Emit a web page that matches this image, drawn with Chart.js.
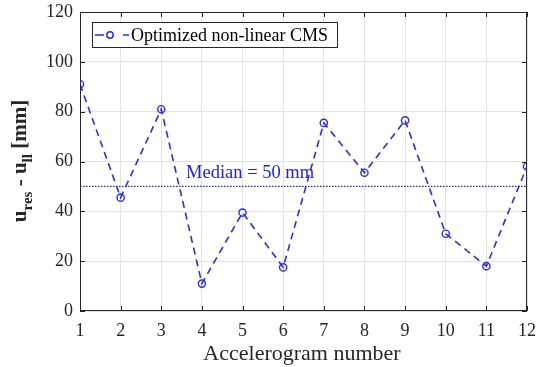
<!DOCTYPE html>
<html>
<head>
<meta charset="utf-8">
<script src="https://cdn.jsdelivr.net/npm/chart.js@4.4.1/dist/chart.umd.min.js"></script>
<style>
  html, body { margin: 0; padding: 0; background: #fff; }
  #wrap { width: 536px; height: 367px; }
</style>
</head>
<body>
<div id="wrap"><canvas id="chart" width="536" height="367"></canvas></div>
<script>
const records = [1, 2, 3, 4, 5, 6, 7, 8, 9, 10, 11, 12];
const displacement = [91, 45.5, 81, 11, 39.5, 17.5, 75.5, 55.5, 76.5, 31, 18, 58];
const medianValue = 50;
const yTicks = [0, 20, 40, 60, 80, 100, 120];
const seriesLabel = 'Optimized non-linear CMS';
const medianLabel = 'Median = 50 mm';
const xTitle = 'Accelerogram number';

const serif = '"Liberation Serif", "Times New Roman", serif';
const axisColor = '#262626';
const blue = '#2a2aff';

// frame, inward ticks, titles, legend and median text
const decorations = {
  id: 'decorations',
  afterDraw(chart) {
    const ctx = chart.ctx;
    const a = chart.chartArea;
    const xs = chart.scales.x, ys = chart.scales.y;
    ctx.save();
    ctx.strokeStyle = axisColor;
    ctx.lineWidth = 1;
    ctx.beginPath();
    ctx.rect(a.left + 0.5, a.top + 0.5, a.right - a.left - 1, a.bottom - a.top - 1);
    ctx.stroke();
    ctx.beginPath();
    records.forEach((r) => {
      const x = Math.round(xs.getPixelForValue(r)) + 0.5;
      ctx.moveTo(x, a.bottom); ctx.lineTo(x, a.bottom - 5);
      ctx.moveTo(x, a.top); ctx.lineTo(x, a.top + 5);
    });
    yTicks.forEach((v) => {
      const y = Math.round(ys.getPixelForValue(v)) + 0.5;
      ctx.moveTo(a.left, y); ctx.lineTo(a.left + 5, y);
      ctx.moveTo(a.right, y); ctx.lineTo(a.right - 5, y);
    });
    ctx.stroke();

    // x title
    ctx.fillStyle = axisColor;
    ctx.font = '22px ' + serif;
    ctx.textAlign = 'center';
    ctx.textBaseline = 'alphabetic';
    ctx.fillText(xTitle, 302, 360);

    // y title with subscripts
    ctx.save();
    ctx.translate(26, 161);
    ctx.rotate(-Math.PI / 2);
    const big = 'bold 21px ' + serif;
    const small = 'bold 15px ' + serif;
    const parts = [['u', big, 0], ['res', small, 6], [' - u', big, 0], ['ll', small, 6], [' [mm]', big, 0]];
    let w = 0;
    parts.forEach((p) => { ctx.font = p[1]; w += ctx.measureText(p[0]).width; });
    let x = -w / 2;
    ctx.textAlign = 'left';
    parts.forEach((p) => {
      ctx.font = p[1];
      ctx.fillText(p[0], x, p[2]);
      x += ctx.measureText(p[0]).width;
    });
    ctx.restore();

    // median text
    ctx.fillStyle = '#1a1aff';
    ctx.font = '18.5px ' + serif;
    ctx.textAlign = 'left';
    ctx.fillText(medianLabel, 186, ys.getPixelForValue(medianValue) - 8);

    // legend
    const lx = 92, ly = 22, lw = 245, lh = 25;
    ctx.fillStyle = '#fff';
    ctx.fillRect(lx, ly, lw, lh);
    ctx.strokeStyle = axisColor;
    ctx.strokeRect(lx + 0.5, ly + 0.5, lw, lh);
    const cy = ly + lh / 2 + 0.5;
    ctx.strokeStyle = blue;
    ctx.lineWidth = 1.5;
    ctx.beginPath();
    ctx.moveTo(lx + 3, cy); ctx.lineTo(lx + 12, cy);
    ctx.moveTo(lx + 31, cy); ctx.lineTo(lx + 37, cy);
    ctx.stroke();
    ctx.beginPath();
    ctx.arc(lx + 18, cy, 3.2, 0, Math.PI * 2);
    ctx.stroke();
    ctx.fillStyle = '#000';
    ctx.font = '18px ' + serif;
    ctx.textBaseline = 'middle';
    ctx.fillText(seriesLabel, lx + 39, cy + 1);
    ctx.restore();
  },
};

new Chart(document.getElementById('chart'), {
  type: 'line',
  data: {
    labels: records,
    datasets: [
      {
        label: seriesLabel,
        data: displacement,
        borderColor: blue,
        borderWidth: 1.6,
        borderDash: [7, 5],
        pointRadius: 3.6,
        pointBorderWidth: 1.4,
        pointBackgroundColor: 'rgba(255,255,255,0)',
        pointBorderColor: blue,
        tension: 0,
      },
      {
        label: 'median',
        data: records.map(() => medianValue),
        borderColor: '#1a1aff',
        borderWidth: 1.3,
        borderDash: [1.5, 1.5],
        pointRadius: 0,
      },
    ],
  },
  options: {
    responsive: false,
    animation: false,
    layout: { padding: { top: 12, right: 9, left: 0, bottom: 0 } },
    plugins: { legend: { display: false }, tooltip: { enabled: false } },
    scales: {
      x: {
        type: 'linear',
        min: 1,
        max: 12,
        afterFit(s) { s.height = 56; s.paddingLeft = 0; s.paddingRight = 0; },
        afterBuildTicks(s) { s.ticks = records.map((v) => ({ value: v })); },
        grid: { color: '#e3e3e3', lineWidth: 1, drawTicks: false },
        border: { display: false },
        ticks: {
          color: axisColor,
          font: { family: serif, size: 18 },
          padding: 9,
          maxRotation: 0,
          autoSkip: false,
        },
      },
      y: {
        min: 0,
        max: 120,
        afterFit(s) { s.width = 80; s.paddingTop = 0; s.paddingBottom = 0; },
        afterBuildTicks(s) { s.ticks = yTicks.map((v) => ({ value: v })); },
        grid: { color: '#e3e3e3', lineWidth: 1, drawTicks: false },
        border: { display: false },
        ticks: {
          color: axisColor,
          font: { family: serif, size: 18 },
          padding: 7,
        },
      },
    },
  },
  plugins: [decorations],
});
</script>
</body>
</html>
